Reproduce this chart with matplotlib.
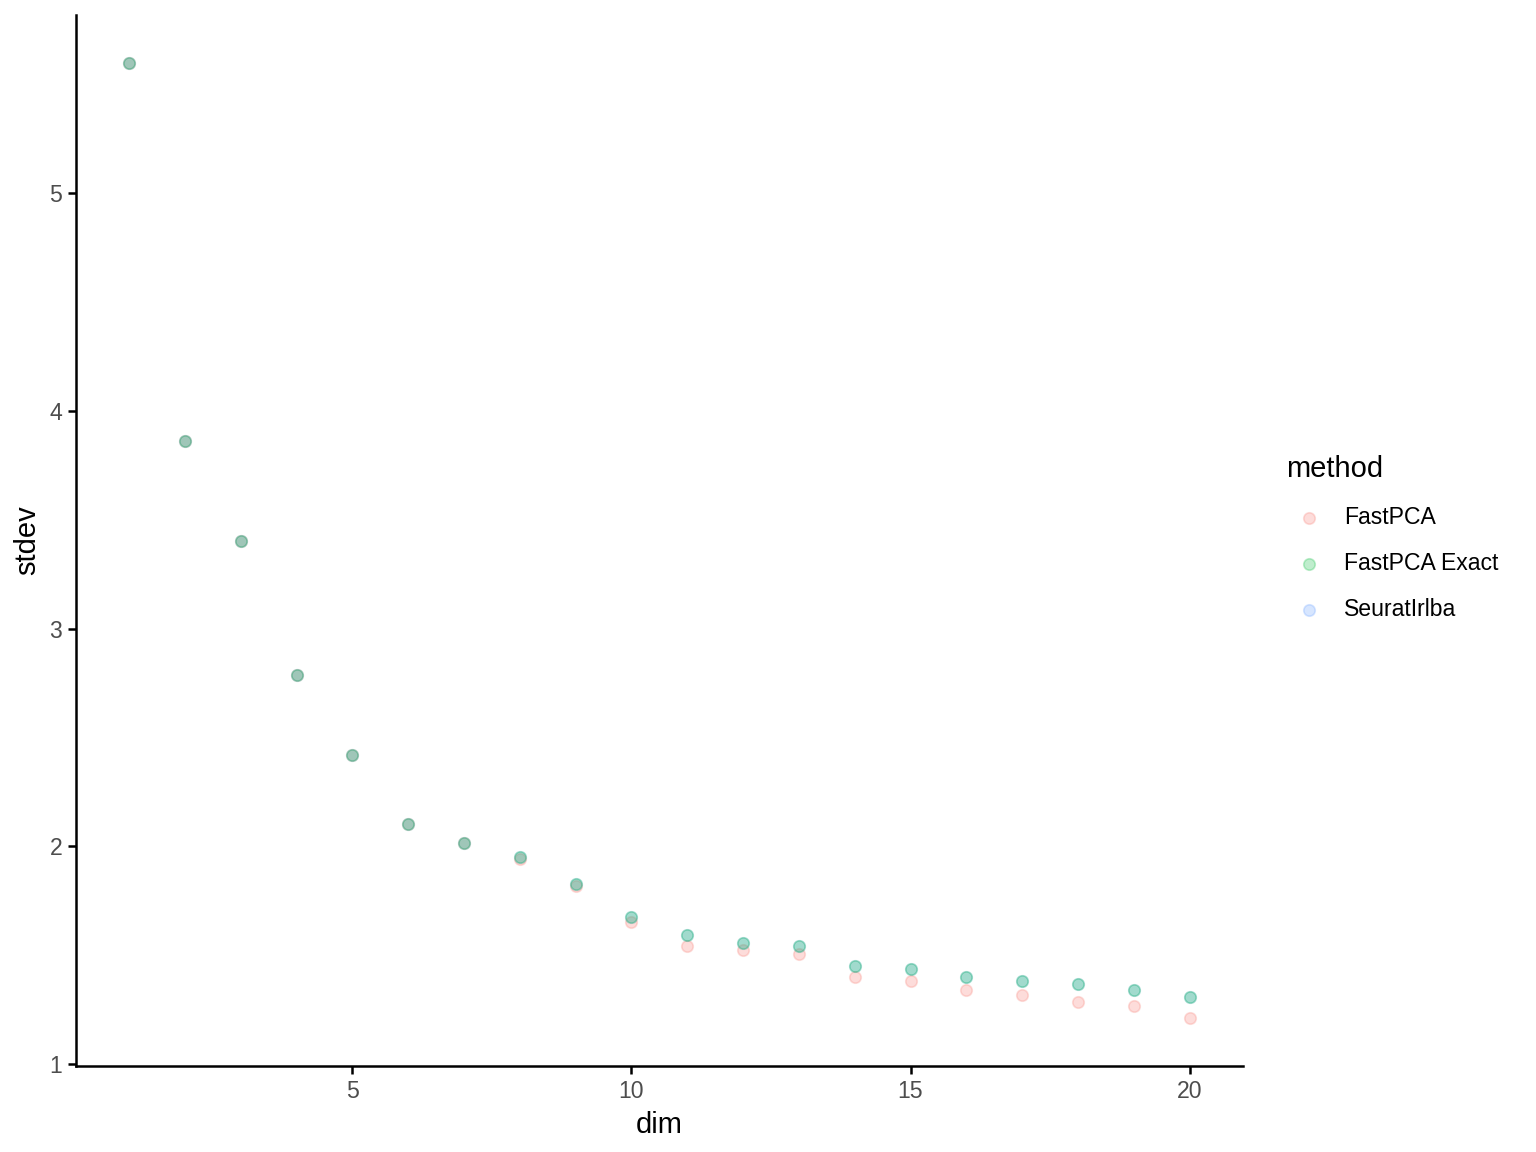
import numpy as np
import matplotlib
matplotlib.use("Agg")
import matplotlib.pyplot as plt

# stdev per dimension for each method
dims = np.arange(1, 21)
fastpca = [5.600, 3.864, 3.401, 2.787, 2.420, 2.104, 2.017, 1.944, 1.816, 1.655,
           1.544, 1.522, 1.506, 1.400, 1.383, 1.339, 1.318, 1.284, 1.267, 1.211]
fastpca_exact = [5.600, 3.864, 3.401, 2.787, 2.420, 2.104, 2.017, 1.953, 1.829, 1.678,
                 1.591, 1.558, 1.542, 1.450, 1.438, 1.402, 1.382, 1.368, 1.340, 1.307]
seurat_irlba = list(fastpca_exact)

methods = ["FastPCA", "FastPCA Exact", "SeuratIrlba"]
colors = ["#F8766D", "#00BA38", "#619CFF"]
series = [fastpca, fastpca_exact, seurat_irlba]
draw_order = [0, 2, 1]  # green ends up on top

plt.rcParams["font.family"] = ["Liberation Sans", "DejaVu Sans"]

fig = plt.figure(figsize=(7.68, 5.76), dpi=200)
ax = fig.add_axes([0.0495, 0.0747, 0.7595, 0.9123])

handles = {}
for i in draw_order:
    handles[i] = ax.scatter(dims, series[i], s=17, color=colors[i], alpha=0.25,
                            linewidths=0.6, edgecolors=colors[i],
                            label=methods[i], zorder=3)

ymin, ymax = min(min(s) for s in series), max(max(s) for s in series)
pad = 0.05 * (ymax - ymin)
ax.set_ylim(ymin - pad, ymax + pad)
ax.set_xlim(1 - 0.05 * 19, 20 + 0.05 * 19)
ax.set_xticks([5, 10, 15, 20])
ax.set_yticks([1, 2, 3, 4, 5])

for side in ["top", "right"]:
    ax.spines[side].set_visible(False)
for side in ["left", "bottom"]:
    ax.spines[side].set_linewidth(0.9)
ax.tick_params(axis="both", labelsize=8.3, labelcolor="#4D4D4D", length=3,
               width=0.9, pad=2)
ax.set_xlabel("dim", fontsize=10.5, labelpad=3)
ax.set_ylabel("stdev", fontsize=10.5, labelpad=3)

leg = ax.legend([handles[i] for i in range(3)], methods, title="method",
                loc="center left", bbox_to_anchor=(0.824, 0.533),
                bbox_transform=fig.transFigure, frameon=False, fontsize=8.3,
                title_fontsize=10.5, handletextpad=0.5, labelspacing=1.0,
                markerscale=1.0)
leg._legend_box.align = "left"

fig.savefig("out.png", dpi=200)
